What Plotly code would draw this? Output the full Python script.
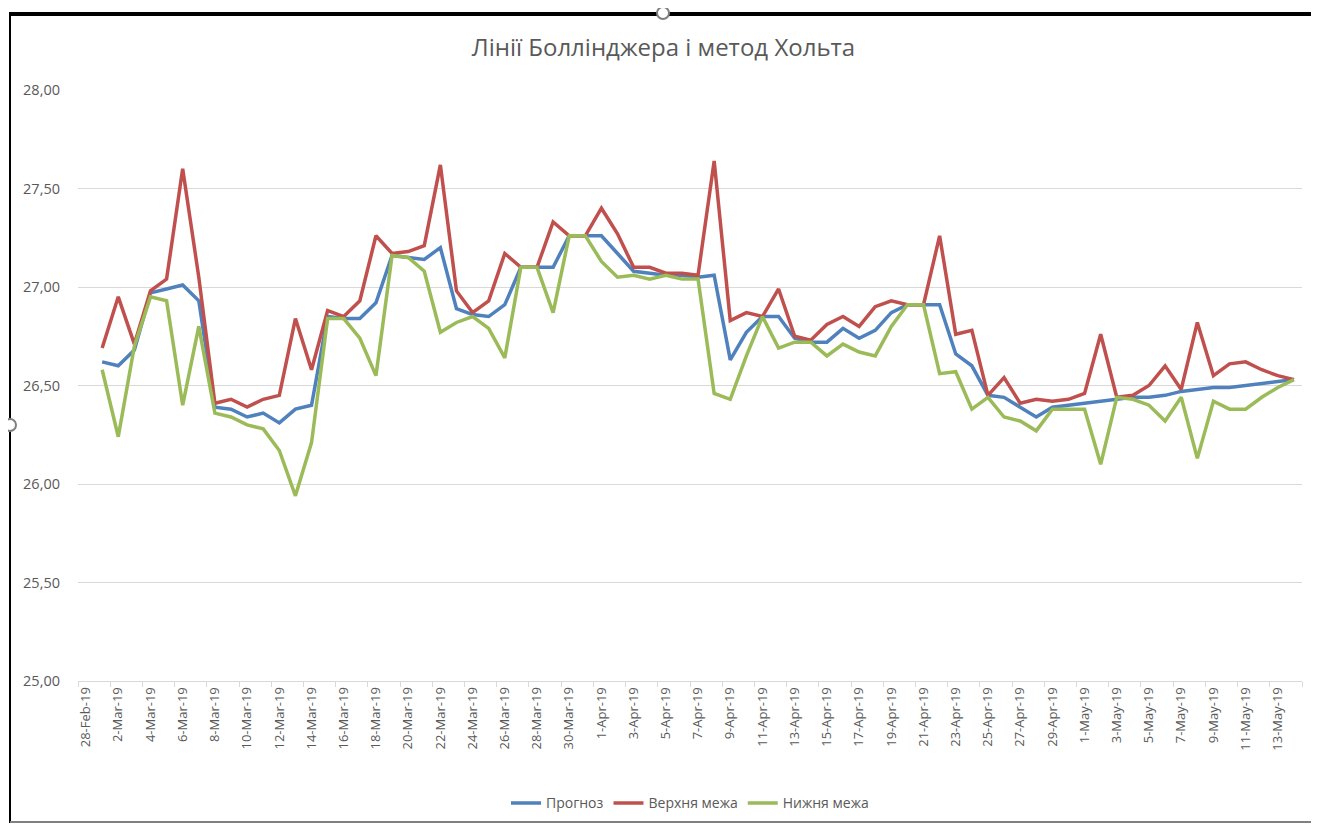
import plotly.graph_objects as go
import pandas as pd

# Categories: daily dates 28-Feb-19 .. 14-May-19
dates = pd.date_range("2019-02-28", "2019-05-14", freq="D")
categories = [f"{d.day}-{d.strftime('%b')}-{d.strftime('%y')}" for d in dates]

# Series values (28-Feb has no data)
prognoz = [None,
    26.62, 26.60, 26.68, 26.97, 26.99, 27.01, 26.93, 26.39, 26.38, 26.34,
    26.36, 26.31, 26.38, 26.40, 26.85, 26.84, 26.84, 26.92, 27.16, 27.15,
    27.14, 27.20, 26.89, 26.86, 26.85, 26.91, 27.10, 27.10, 27.10, 27.26,
    27.26, 27.26, 27.17, 27.08, 27.07, 27.06, 27.06, 27.05, 27.06, 26.63,
    26.77, 26.85, 26.85, 26.74, 26.72, 26.72, 26.79, 26.74, 26.78, 26.87,
    26.91, 26.91, 26.91, 26.66, 26.60, 26.45, 26.44, 26.39, 26.34, 26.39,
    26.40, 26.41, 26.42, 26.43, 26.44, 26.44, 26.45, 26.47, 26.48, 26.49,
    26.49, 26.50, 26.51, 26.52, 26.53]
upper = [None,
    26.69, 26.95, 26.71, 26.98, 27.04, 27.60, 27.05, 26.41, 26.43, 26.39,
    26.43, 26.45, 26.84, 26.58, 26.88, 26.85, 26.93, 27.26, 27.17, 27.18,
    27.21, 27.62, 26.98, 26.87, 26.93, 27.17, 27.10, 27.10, 27.33, 27.26,
    27.26, 27.40, 27.27, 27.10, 27.10, 27.07, 27.07, 27.06, 27.64, 26.83,
    26.87, 26.85, 26.99, 26.75, 26.73, 26.81, 26.85, 26.80, 26.90, 26.93,
    26.91, 26.91, 27.26, 26.76, 26.78, 26.45, 26.54, 26.41, 26.43, 26.42,
    26.43, 26.46, 26.76, 26.44, 26.45, 26.50, 26.60, 26.48, 26.82, 26.55,
    26.61, 26.62, 26.58, 26.55, 26.53]
lower = [None,
    26.58, 26.24, 26.70, 26.95, 26.93, 26.40, 26.80, 26.36, 26.34, 26.30,
    26.28, 26.17, 25.94, 26.21, 26.84, 26.84, 26.74, 26.55, 27.16, 27.15,
    27.08, 26.77, 26.82, 26.85, 26.79, 26.64, 27.10, 27.10, 26.87, 27.26,
    27.26, 27.13, 27.05, 27.06, 27.04, 27.06, 27.04, 27.04, 26.46, 26.43,
    26.65, 26.85, 26.69, 26.72, 26.72, 26.65, 26.71, 26.67, 26.65, 26.80,
    26.91, 26.91, 26.56, 26.57, 26.38, 26.44, 26.34, 26.32, 26.27, 26.38,
    26.38, 26.38, 26.10, 26.44, 26.43, 26.40, 26.32, 26.44, 26.13, 26.42,
    26.38, 26.38, 26.44, 26.49, 26.53]

series_names = ["Прогноз", "Верхня межа", "Нижня межа"]
series_colors = ["#4F81BD", "#C0504D", "#9BBB59"]
y_ticks = [25.0, 25.5, 26.0, 26.5, 27.0, 27.5, 28.0]

fig = go.Figure()
for name, vals, col in zip(series_names, [prognoz, upper, lower], series_colors):
    fig.add_trace(go.Scatter(x=categories, y=vals, mode="lines", name=name,
                             line=dict(color=col, width=3.5), connectgaps=False))

txt = "#595959"
# page is rendered with an 8px body margin -> figure is 8px smaller and shifted
W, H = 1311, 817
L, T, R, B = 70, 82, 17, 144
PW, PH = W - L - R, H - T - B

fig.update_layout(
    width=W, height=H,
    paper_bgcolor="white", plot_bgcolor="white",
    separators=", ",
    margin=dict(l=L, r=R, t=T, b=B, autoexpand=False),
    title=dict(text="Лінії Боллінджера і метод Хольта", x=0.5, xanchor="center",
               y=1 - 40 / H, yanchor="middle",
               font=dict(family="Open Sans", size=24, color=txt)),
    font=dict(family="Open Sans", color=txt, size=12),
    showlegend=True,
    legend=dict(orientation="h", x=0.5, xanchor="center", y=-0.207, yanchor="middle",
                font=dict(size=14, color=txt), traceorder="normal"),
    xaxis=dict(type="category", categoryorder="array", categoryarray=categories,
               range=[-0.5, len(categories) - 0.5],
               tickmode="linear", tick0=0, dtick=2, tickson="boundaries",
               tickangle=-90, tickfont=dict(size=13, color=txt),
               showgrid=False, showline=True, linecolor="#D9D9D9", linewidth=1,
               ticks="outside", ticklen=5, tickcolor="#D9D9D9",
               zeroline=False, fixedrange=True),
    yaxis=dict(range=[25, 28], tickmode="array", tickvals=y_ticks,
               tickformat=".2f", tickfont=dict(size=14.5, color=txt),
               showgrid=True, gridcolor="#D9D9D9", gridwidth=1,
               showline=False, zeroline=False, ticks="", ticklabelstandoff=17,
               fixedrange=True),
)

# Frame of the chart object as in the screenshot (page pixel coords)
def px_x(p):
    return (p - 8 - L) / PW

def px_y(p):
    return (T + PH - (p - 8)) / PH

fig.add_shape(type="line", xref="paper", yref="paper",
              x0=px_x(9), x1=px_x(1319), y0=px_y(14), y1=px_y(14),
              line=dict(color="black", width=4))
fig.add_shape(type="line", xref="paper", yref="paper",
              x0=px_x(10), x1=px_x(10), y0=px_y(14), y1=px_y(823),
              line=dict(color="black", width=2))
fig.add_shape(type="line", xref="paper", yref="paper",
              x0=px_x(10), x1=px_x(1319), y0=px_y(822), y1=px_y(822),
              line=dict(color="#808080", width=2))
# selection handles
for cx, cy in [(663, 13), (1318, 425), (10, 425)]:
    fig.add_shape(type="circle", xref="paper", yref="paper",
                  x0=px_x(cx - 6), x1=px_x(cx + 6), y0=px_y(cy - 6), y1=px_y(cy + 6),
                  line=dict(color="#7F7F7F", width=2), fillcolor="white")

fig.write_html("out.html")
